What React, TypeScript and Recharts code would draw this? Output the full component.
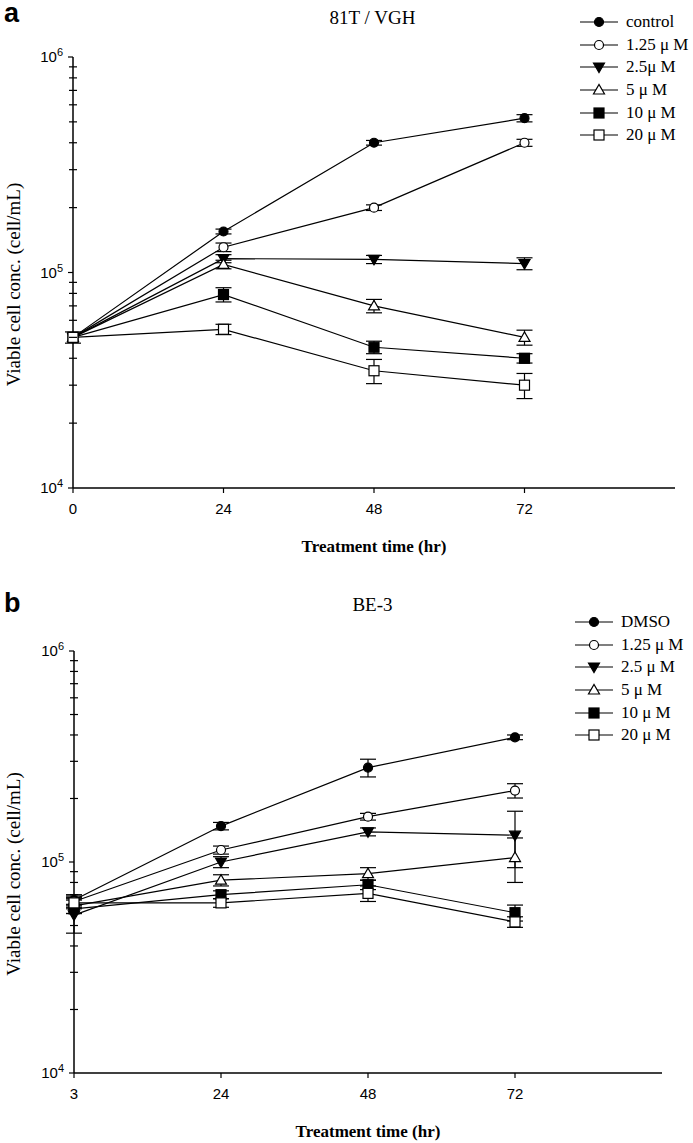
import React from 'react';
import { LineChart, Line, XAxis, YAxis, ErrorBar, Legend, Label } from 'recharts';

// panel a: 81T / VGH
const timesA = [0, 24, 48, 72];
const timeLabelsA = ['0', '24', '48', '72'];
const controlA = [5e4, 1.55e5, 4e5, 5.2e5];
const controlErrA = [0, 4e3, 1e4, 2e4];
const c125A = [5e4, 1.31e5, 2e5, 4e5];
const c125ErrA = [0, 6e3, 6e3, 1.5e4];
const c25A = [5e4, 1.16e5, 1.15e5, 1.1e5];
const c25ErrA = [0, 5e3, 5e3, 7e3];
const c5A = [5e4, 1.09e5, 7e4, 5e4];
const c5ErrA = [0, 5e3, 5e3, 4e3];
const c10A = [5e4, 7.9e4, 4.5e4, 4e4];
const c10ErrA = [0, 6e3, 3e3, 2e3];
const c20A = [5e4, 5.45e4, 3.5e4, 3e4];
const c20ErrA = [3e3, 3e3, 4.5e3, 4e3];

// panel b: BE-3 (first sample is at 3 hr, drawn at the axis origin)
const timesB = [0, 24, 48, 72];
const timeLabelsB = ['3', '24', '48', '72'];
const dmsoB = [6.6e4, 1.48e5, 2.8e5, 3.9e5];
const dmsoErrB = [4e3, 6e3, 2.7e4, 1e4];
const c125B = [6.5e4, 1.14e5, 1.64e5, 2.18e5];
const c125ErrB = [4e3, 5e3, 6e3, 1.7e4];
const c25B = [5.6e4, 1e5, 1.39e5, 1.34e5];
const c25ErrB = [1e4, 6e3, 6e3, 4e4];
const c5B = [6.2e4, 8.2e4, 8.8e4, 1.05e5];
const c5ErrB = [5e3, 5e3, 6e3, 2.5e4];
const c10B = [6e4, 7e4, 7.8e4, 5.75e4];
const c10ErrB = [3e3, 3e3, 4e3, 5e3];
const c20B = [6.4e4, 6.4e4, 7.1e4, 5.2e4];
const c20ErrB = [4e3, 3e3, 6e3, 3e3];

const yTicks = [
  1e4, 2e4, 3e4, 4e4, 5e4, 6e4, 7e4, 8e4, 9e4,
  1e5, 2e5, 3e5, 4e5, 5e5, 6e5, 7e5, 8e5, 9e5, 1e6,
];

type Kind = 'dotFilled' | 'dotOpen' | 'triDown' | 'triUp' | 'sqFilled' | 'sqOpen';

interface Series {
  name: string;
  kind: Kind;
  values: number[];
  errors: number[];
}

const seriesA: Series[] = [
  { name: 'control', kind: 'dotFilled', values: controlA, errors: controlErrA },
  { name: '1.25 μ M', kind: 'dotOpen', values: c125A, errors: c125ErrA },
  { name: '2.5μ M', kind: 'triDown', values: c25A, errors: c25ErrA },
  { name: '5 μ M', kind: 'triUp', values: c5A, errors: c5ErrA },
  { name: '10 μ M', kind: 'sqFilled', values: c10A, errors: c10ErrA },
  { name: '20 μ M', kind: 'sqOpen', values: c20A, errors: c20ErrA },
];

const seriesB: Series[] = [
  { name: 'DMSO', kind: 'dotFilled', values: dmsoB, errors: dmsoErrB },
  { name: '1.25 μ M', kind: 'dotOpen', values: c125B, errors: c125ErrB },
  { name: '2.5 μ M', kind: 'triDown', values: c25B, errors: c25ErrB },
  { name: '5 μ M', kind: 'triUp', values: c5B, errors: c5ErrB },
  { name: '10 μ M', kind: 'sqFilled', values: c10B, errors: c10ErrB },
  { name: '20 μ M', kind: 'sqOpen', values: c20B, errors: c20ErrB },
];

const SERIF = '"Liberation Serif", "Times New Roman", serif';
const SANS = '"Liberation Sans", Arial, sans-serif';

const Marker = ({ kind, cx, cy }: { kind: Kind; cx: number; cy: number }) => {
  const common = { stroke: '#000', strokeWidth: 1.2 };
  switch (kind) {
    case 'dotFilled':
      return <circle cx={cx} cy={cy} r={4.5} fill="#000" {...common} />;
    case 'dotOpen':
      return <circle cx={cx} cy={cy} r={4.5} fill="#fff" {...common} />;
    case 'triDown':
      return <polygon points={`${cx - 5.5},${cy - 4} ${cx + 5.5},${cy - 4} ${cx},${cy + 5.5}`} fill="#000" {...common} />;
    case 'triUp':
      return <polygon points={`${cx - 5.5},${cy + 4} ${cx + 5.5},${cy + 4} ${cx},${cy - 5.5}`} fill="#fff" {...common} />;
    case 'sqFilled':
      return <rect x={cx - 5} y={cy - 5} width={10} height={10} fill="#000" {...common} />;
    default:
      return <rect x={cx - 5} y={cy - 5} width={10} height={10} fill="#fff" {...common} />;
  }
};

const YTick = (props: any) => {
  const { x, y, payload } = props;
  const lg = Math.log10(payload.value);
  const exp = Math.round(lg);
  const major = Math.abs(lg - exp) < 1e-6;
  return (
    <g>
      <line x1={major ? x - 5 : x - 4} x2={major ? x : x + 4} y1={y} y2={y} stroke="#000" strokeWidth={1.2} />
      {major && (
        <text x={x - 10} y={y + 5} textAnchor="end" fontSize={15} fontFamily={SANS} fill="#000">
          10
          <tspan dy={-6} fontSize={11}>{exp}</tspan>
        </text>
      )}
    </g>
  );
};

const LegendBox = ({ series }: { series: Series[] }) => (
  <div>
    {series.map((s) => (
      <div key={s.name} style={{ display: 'flex', alignItems: 'center', height: 22.6 }}>
        <svg width={44} height={16}>
          <line x1={2} x2={40} y1={8} y2={8} stroke="#000" strokeWidth={1.2} />
          <Marker kind={s.kind} cx={21} cy={8} />
        </svg>
        <span style={{ fontFamily: SERIF, fontSize: 17, color: '#000', marginLeft: 4, whiteSpace: 'nowrap' }}>
          {s.name}
        </span>
      </div>
    ))}
  </div>
);

interface PanelProps {
  letter: string;
  letterTop: number;
  title: string;
  times: number[];
  timeLabels: string[];
  series: Series[];
  width: number;
  height: number;
  margin: { top: number; right: number; bottom: number; left: number };
  legendPos: { top: number; left: number };
  titleTop: number;
}

const Panel = ({ letter, letterTop, title, times, timeLabels, series, width, height, margin, legendPos, titleTop }: PanelProps) => {
  const data = times.map((t, i) => {
    const row: Record<string, number> = { t };
    series.forEach((s, k) => {
      row[`v${k}`] = s.values[i];
      row[`e${k}`] = s.errors[i];
    });
    return row;
  });

  return (
    <div style={{ position: 'relative', width, height }}>
      <div style={{ position: 'absolute', left: 4, top: letterTop, lineHeight: 1, fontFamily: SANS, fontWeight: 'bold', fontSize: 27, color: '#000' }}>
        {letter}
      </div>
      <div style={{ position: 'absolute', left: 0, width: 745, textAlign: 'center', top: titleTop, lineHeight: 1, fontFamily: SERIF, fontSize: 19, color: '#000' }}>
        {title}
      </div>
      <LineChart width={width} height={height} data={data} margin={margin}>
        <XAxis
          dataKey="t"
          type="number"
          domain={[0, 96]}
          ticks={times}
          tickFormatter={(v: number) => timeLabels[times.indexOf(v)] ?? ''}
          axisLine={{ stroke: '#000', strokeWidth: 1.5 }}
          tickLine={{ stroke: '#000', strokeWidth: 1.2 }}
          tickSize={5}
          tickMargin={10}
          tick={{ fill: '#000', fontSize: 15, fontFamily: SANS }}
          height={70}
        >
          <Label
            content={(p: any) => {
              const vb = p.viewBox;
              return (
                <text x={vb.x + vb.width / 2} y={vb.y + vb.height - 6} textAnchor="middle" fontFamily={SERIF} fontWeight="bold" fontSize={17} fill="#000">
                  Treatment time (hr)
                </text>
              );
            }}
          />
        </XAxis>
        <YAxis
          type="number"
          scale="log"
          domain={[1e4, 1e6]}
          allowDataOverflow
          ticks={yTicks}
          interval={0}
          axisLine={{ stroke: '#000', strokeWidth: 1.5 }}
          tickLine={false}
          tickSize={0}
          tickMargin={0}
          tick={<YTick />}
          width={73}
        >
          <Label
            content={(p: any) => {
              const vb = p.viewBox;
              const cx = 13;
              const cy = vb.y + vb.height / 2 + 12;
              return (
                <text x={cx} y={cy} transform={`rotate(-90 ${cx} ${cy})`} textAnchor="middle" dominantBaseline="central" fontFamily={SERIF} fontSize={19} fill="#000">
                  Viable cell conc. (cell/mL)
                </text>
              );
            }}
          />
        </YAxis>
        <Legend
          layout="vertical"
          align="center"
          verticalAlign="middle"
          wrapperStyle={{ top: legendPos.top, left: legendPos.left, width: 'auto' }}
          content={() => <LegendBox series={series} />}
        />
        {series.map((s, k) => (
          <Line
            key={s.name}
            dataKey={`v${k}`}
            name={s.name}
            stroke="#000"
            strokeWidth={1.2}
            isAnimationActive={false}
            dot={(p: any) => <Marker key={`${s.name}-${p.index}`} kind={s.kind} cx={p.cx} cy={p.cy} />}
            activeDot={false}
          >
            <ErrorBar dataKey={`e${k}`} width={8} stroke="#000" strokeWidth={1.2} direction="y" />
          </Line>
        ))}
      </LineChart>
    </div>
  );
};

export default function App() {
  return (
    <div style={{ position: 'absolute', left: 0, top: 0, width: 693, height: 1143, background: '#fff' }}>
      <Panel
        letter="a"
        letterTop={0}
        title="81T / VGH"
        times={timesA}
        timeLabels={timeLabelsA}
        series={seriesA}
        width={693}
        height={580}
        margin={{ top: 57, right: 18, bottom: 22, left: 0 }}
        legendPos={{ top: 11, left: 578 }}
        titleTop={8}
      />
      <Panel
        letter="b"
        letterTop={10}
        title="BE-3"
        times={timesB}
        timeLabels={timeLabelsB}
        series={seriesB}
        width={693}
        height={563}
        margin={{ top: 71, right: 31, bottom: 0, left: 1 }}
        legendPos={{ top: 31, left: 573 }}
        titleTop={15}
      />
    </div>
  );
}
